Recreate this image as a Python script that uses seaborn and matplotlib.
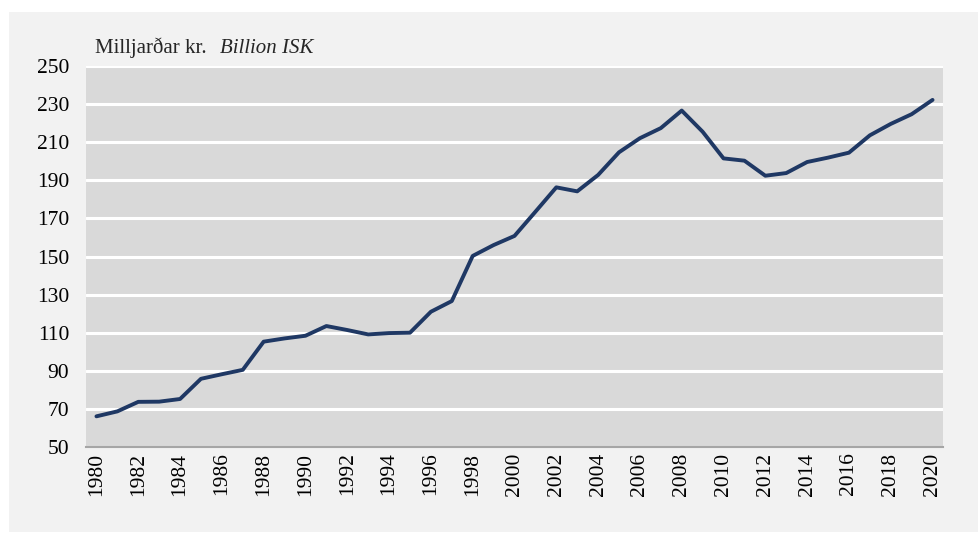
import pandas as pd
import seaborn as sns
import matplotlib.pyplot as plt
from matplotlib.patches import Rectangle

# Values (billion ISK)
years = list(range(1980, 2021))
values = [66.1, 68.7, 73.7, 73.8, 75.2, 85.8, 88.2, 90.5, 105.3, 107.0,
          108.4, 113.5, 111.4, 109.1, 109.8, 110.0, 121.0, 126.6, 150.3, 156.0,
          160.8, 173.5, 186.3, 184.2, 192.8, 204.7, 212.1, 217.4, 226.6, 215.5,
          201.5, 200.3, 192.4, 193.8, 199.6, 201.9, 204.5, 213.6, 219.6, 224.7,
          232.2]
y_ticks = list(range(50, 251, 20))
x_ticks = list(range(1980, 2021, 2))

df = pd.DataFrame({'year': years, 'value': values})

sns.set_style('white')
plt.rcParams['font.family'] = ['Liberation Serif', 'DejaVu Serif']

W, H = 979, 533
fig = plt.figure(figsize=(W / 100, H / 100), dpi=100)
fig.patch.set_facecolor('white')

# light grey panel behind the chart
fig.add_artist(Rectangle((9 / W, 1 - 532 / H), (979 - 9) / W, (532 - 12) / H,
                         transform=fig.transFigure, facecolor='#f2f2f2',
                         edgecolor='none', zorder=-10))

ax = fig.add_axes([86 / W, 1 - 447 / H, (943 - 86) / W, (447 - 66) / H])
ax.set_zorder(1)
ax.set_facecolor('#d9d9d9')

sns.lineplot(data=df, x='year', y='value', ax=ax, color='#1f3864', linewidth=2.8,
             zorder=3)

ax.set_xlim(1979.5, 2020.5)
ax.set_ylim(50, 250)
ax.set_yticks(y_ticks)
ax.set_xticks(x_ticks)
ax.set_xticklabels([str(y) for y in x_ticks], rotation=90)
ax.tick_params(axis='y', labelsize=15.5, length=0, pad=12, colors='black')
ax.tick_params(axis='x', labelsize=15.5, length=0, pad=4, colors='black')
ax.yaxis.grid(True, color='white', linewidth=2.2)
ax.xaxis.grid(False)
ax.set_axisbelow(True)
for s in ['left', 'right', 'top']:
    ax.spines[s].set_visible(False)
ax.spines['bottom'].set_color('#a6a6a6')
ax.spines['bottom'].set_linewidth(1.5)
ax.set_xlabel('')
ax.set_ylabel('')

fig.text(95 / W, 1 - 53 / H, 'Milljarðar kr.', fontsize=15, va='baseline', zorder=5)
fig.text(220 / W, 1 - 53 / H, 'Billion ISK', fontsize=15, style='italic',
         va='baseline', zorder=5)

fig.savefig('out.png', dpi=100)
